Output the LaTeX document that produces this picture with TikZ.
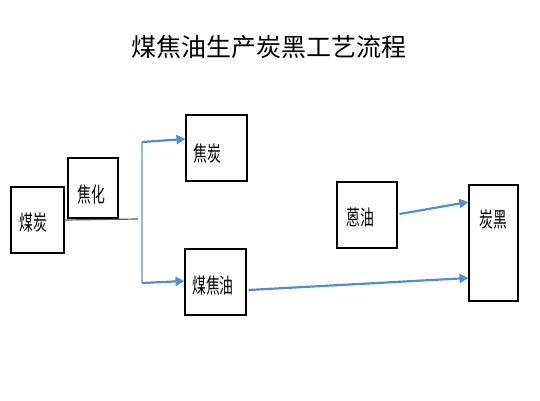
\documentclass[tikz,border=0pt]{standalone}
\usepackage{fontspec}
\newfontfamily\cjk{Noto Sans CJK SC}
\usetikzlibrary{arrows.meta,calc}
\newcommand{\tallt}[1]{\scalebox{0.92}[1.4]{#1}}
\begin{document}
\begin{tikzpicture}[x=1pt,y=-1pt,
  box/.style={draw=black,line width=1.1pt,fill=white,inner sep=0pt,rectangle},
  lbl/.style={font=\cjk\fontsize{15}{15}\selectfont,inner sep=0pt},
  flow/.style={draw={rgb,255:red,84;green,141;blue,204},line width=2.2pt,-{Triangle[length=9pt,width=9pt]}},
  feed/.style={draw={rgb,255:red,90;green,90;blue,90},line width=1.2pt},
  split/.style={draw={rgb,255:red,160;green,185;blue,210},line width=1.2pt}]
\useasboundingbox (0,0) rectangle (540,400);
\node[font=\cjk\fontsize{25}{25}\selectfont,inner sep=0pt] (title) at (269,47) {煤焦油生产炭黑工艺流程};
\node[box,minimum width=53pt,minimum height=66pt] (meitan) at (37.5,220) {};
\node[lbl] (meitanT) at (33,223) {\tallt{煤炭}};
\node[box,minimum width=50pt,minimum height=60pt] (jiaohua) at (93,188) {};
\node[lbl] (jiaohuaT) at (91,194) {\tallt{焦化}};
\node[box,minimum width=61pt,minimum height=66pt] (jiaotan) at (216.5,148) {};
\node[lbl] (jiaotanT) at (207,153) {\tallt{焦炭}};
\node[box,minimum width=61pt,minimum height=66pt] (meijiaoyou) at (215.5,282) {};
\node[lbl] (meijiaoyouT) at (213,285) {\tallt{煤焦油}};
\node[box,minimum width=60pt,minimum height=66pt] (enyou) at (367,215) {};
\node[lbl] (enyouT) at (360,217) {\tallt{蒽油}};
\node[box,minimum width=49pt,minimum height=116pt] (tanhei) at (493.5,243) {};
\node[lbl] (tanheiT) at (493,220) {\tallt{炭黑}};
\coordinate (jend) at (138,219);
\coordinate (stop) at (142,142);
\coordinate (sbot) at (142,283);
\draw[feed] (meitan.east) -- (jend);
\draw[split] (stop) -- (sbot);
\draw[flow] (stop) -- ($(jiaotan.west)+(0,-9)$);
\draw[flow] (sbot) -- ($(meijiaoyou.west)+(0,-1)$);
\draw[flow] ($(enyou.east)+(2,-1)$) -- ($(tanhei.west)+(0,-41)$);
\draw[flow] ($(meijiaoyou.east)+(2,8)$) -- ($(tanhei.west)+(0,35)$);
\end{tikzpicture}
\end{document}
